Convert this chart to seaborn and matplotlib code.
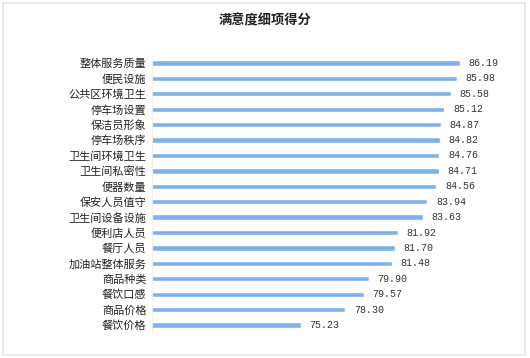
import matplotlib
matplotlib.use("Agg")
import matplotlib.pyplot as plt
import seaborn as sns
import pandas as pd
from matplotlib.patches import Rectangle

categories = ["整体服务质量", "便民设施", "公共区环境卫生", "停车场设置", "保洁员形象",
              "停车场秩序", "卫生间环境卫生", "卫生间私密性", "便器数量", "保安人员值守",
              "卫生间设备设施", "便利店人员", "餐厅人员", "加油站整体服务", "商品种类",
              "餐饮口感", "商品价格", "餐饮价格"]
values = [86.19, 85.98, 85.58, 85.12, 84.87, 84.82, 84.76, 84.71, 84.56, 83.94,
          83.63, 81.92, 81.70, 81.48, 79.90, 79.57, 78.30, 75.23]
title = "满意度细项得分"

sns.set_theme(style="white")
plt.rcParams['font.family'] = ['Noto Sans CJK SC', 'DejaVu Sans']

W, H = 530, 358
fig = plt.figure(figsize=(W / 100, H / 100), dpi=100)
fig.patch.set_facecolor("white")

x0, x1 = 152, 515.4
y_top, y_bot = 55.3, 332.7
ax = fig.add_axes([x0 / W, 1 - y_bot / H, (x1 - x0) / W, (y_bot - y_top) / H])

df = pd.DataFrame({"cat": categories, "val": values})
sns.barplot(data=df, y="cat", x="val", orient="h", color="#7db3ea", saturation=1,
            width=0.34, ax=ax)
ax.set_xlim(65, 90)
ax.set_ylim(len(categories) - 0.5, -0.5)
ax.set_xlabel("")
ax.set_ylabel("")
ax.set_xticks([])
for s in ["top", "right", "bottom"]:
    ax.spines[s].set_visible(False)
ax.spines["left"].set_color("#eeeeee")
ax.spines["left"].set_linewidth(0.8)
ax.tick_params(axis="y", length=0, pad=4, labelsize=8, labelcolor="#222222")

for i, v in enumerate(values):
    ax.text(v + 0.6, i, f"{v:.2f}", va="center", ha="left", fontsize=7.2,
            color="#333333", family=["Liberation Mono", "DejaVu Sans Mono"])

fig.text(265 / W, 1 - 20 / H, title, ha="center", va="center", fontsize=9.5,
         fontweight="bold", color="#222222")

fig.patches.append(Rectangle((3 / W, 3 / H), 522 / W, 352 / H, transform=fig.transFigure,
                             fill=False, edgecolor="#e3e6e6", linewidth=1.2))

fig.savefig("out.png", dpi=100)
